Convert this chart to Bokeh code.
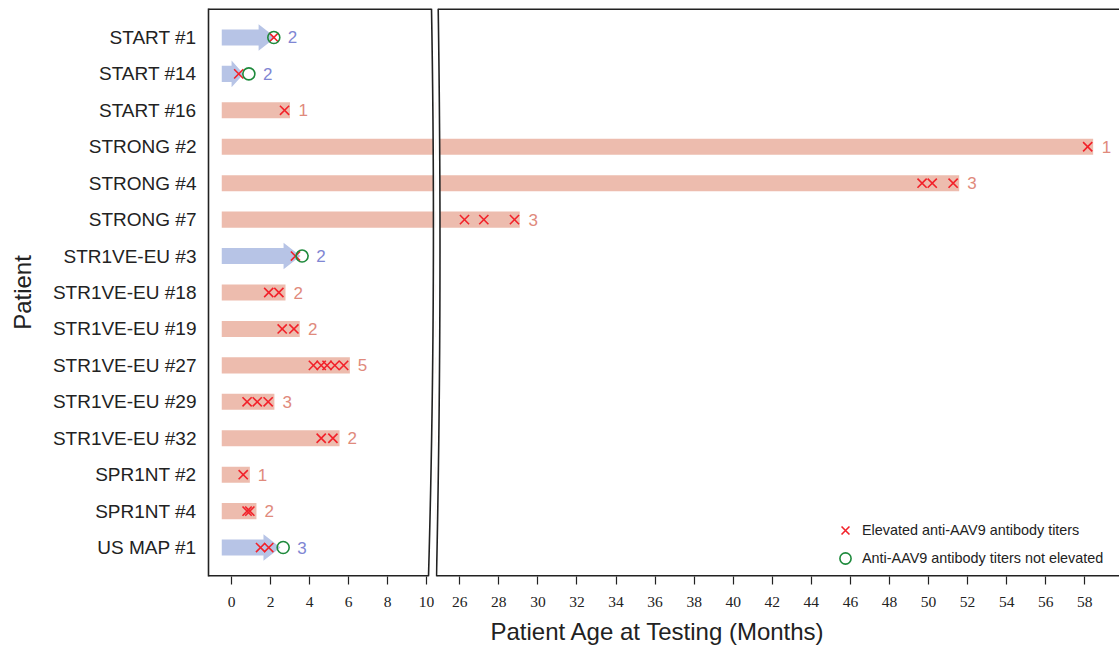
import numpy as np
from bokeh.plotting import figure
from bokeh.layouts import row
from bokeh.models import Range1d, FixedTicker, ColumnDataSource, Title, Legend, LegendItem
from bokeh.core.properties import value
from bokeh.embed import file_html
from bokeh.resources import INLINE

# ---------------- data ----------------
patients = ["START #1", "START #14", "START #16", "STRONG #2", "STRONG #4", "STRONG #7",
            "STR1VE-EU #3", "STR1VE-EU #18", "STR1VE-EU #19", "STR1VE-EU #27",
            "STR1VE-EU #29", "STR1VE-EU #32", "SPR1NT #2", "SPR1NT #4", "US MAP #1"]
follow_up_end = [2.26, 0.62, 3.0, 58.43, 51.57, 29.07, 3.54, 2.77, 3.5, 6.07,
                 2.2, 5.54, 0.94, 1.28, 2.51]
ongoing = [True, True, False, False, False, False, True, False, False, False,
           False, False, False, False, True]
elevated = [[2.17], [0.37], [2.72], [58.15], [49.67, 50.19, 51.26], [26.24, 27.23, 28.8],
            [3.28], [1.91, 2.43], [2.6, 3.2], [4.2, 4.6, 4.9, 5.3, 5.75],
            [0.8, 1.32, 1.88], [4.6, 5.2], [0.6], [0.8, 0.94], [1.49, 1.91]]
not_elevated = [[2.17], [0.89], [], [], [], [], [3.62], [], [], [], [], [], [], [], [2.65]]
test_counts = [2, 2, 1, 1, 3, 3, 2, 2, 2, 5, 3, 2, 1, 2, 3]
left_ticks = [0, 2, 4, 6, 8, 10]
right_ticks = [26, 28, 30, 32, 34, 36, 38, 40, 42, 44, 46, 48, 50, 52, 54, 56, 58]
legend_labels = ["Elevated anti-AAV9 antibody titers", "Anti-AAV9 antibody titers not elevated"]
x_title = "Patient Age at Testing (Months)"
y_title = "Patient"

# ---------------- style ----------------
BAR_START = -0.5
PINK = "#EDBCAE"
BLUE = "#B7C4E6"
RED = "#F2222A"
GREEN = "#1E8A3C"
PINK_TXT = "#E08A7C"
BLUE_TXT = "#7F86D3"
INK = "#222222"
SANS = "Liberation Sans"
SERIF = "Liberation Serif"

# pixel helpers (decoration / layout only)
def lx(px):
    return (px - 231.0) / 19.5

def rx(px):
    return 26.0 + (px - 459.3) / 19.53

def yd(py):
    return (py - 37.0) / 36.5

rows = list(range(len(patients)))

bar_src = ColumnDataSource(dict(
    y=[i for i in rows if not ongoing[i]],
    right=[follow_up_end[i] for i in rows if not ongoing[i]],
))

axs, ays = [], []
for i in rows:
    if ongoing[i]:
        tip = follow_up_end[i]
        h = min(0.87, 0.55 * (tip - BAR_START))
        base = tip - h
        axs.append([BAR_START, base, base, tip, base, base, BAR_START])
        ays.append([i - 0.22, i - 0.22, i - 0.365, i, i + 0.365, i + 0.22, i + 0.22])
arrow_src = ColumnDataSource(dict(xs=axs, ys=ays))

ex, ey, nx, ny = [], [], [], []
for i in rows:
    for v in elevated[i]:
        ex.append(v); ey.append(i)
    for v in not_elevated[i]:
        nx.append(v); ny.append(i)
x_src = ColumnDataSource(dict(x=ex, y=ey))
o_src = ColumnDataSource(dict(x=nx, y=ny))


def label_source(lo, hi):
    lab = dict(x=[], y=[], text=[], color=[])
    for i in rows:
        x = max([follow_up_end[i]] + [v + 0.31 for v in elevated[i] + not_elevated[i]])
        if lo <= x <= hi:
            lab["x"].append(x)
            lab["y"].append(i)
            lab["text"].append(str(test_counts[i]))
            lab["color"].append(BLUE_TXT if ongoing[i] else PINK_TXT)
    return ColumnDataSource(lab)


y_range = Range1d(yd(577), yd(8))

FIG_H = 650
BORDER_TOP = 8
BORDER_BOTTOM = FIG_H - 577


def qbez(p0, c, p2, n=80):
    t = np.linspace(0, 1, n)
    x = (1 - t) ** 2 * p0[0] + 2 * (1 - t) * t * c[0] + t ** 2 * p2[0]
    y = (1 - t) ** 2 * p0[1] + 2 * (1 - t) * t * c[1] + t ** 2 * p2[1]
    return x, y


def make_fig(xr, ticks, is_left, width):
    p = figure(width=width, height=FIG_H, x_range=xr, y_range=y_range,
               output_backend="svg", toolbar_location=None,
               min_border_left=208 if is_left else 0, min_border_right=0,
               min_border_top=BORDER_TOP, min_border_bottom=BORDER_BOTTOM,
               y_axis_location="left" if is_left else None)
    p.outline_line_color = None
    p.xgrid.grid_line_color = None
    p.ygrid.grid_line_color = None
    p.background_fill_color = "white"
    p.border_fill_color = "white"

    lab_src = label_source(xr.start, xr.end)

    p.hbar(y="y", left=BAR_START, right="right", height=0.44, source=bar_src,
           fill_color=PINK, line_color=None)
    p.patches(xs="xs", ys="ys", source=arrow_src, fill_color=BLUE, line_color=None)
    rx_ = p.scatter(x="x", y="y", source=x_src, marker="x", size=13,
                    line_color=RED, line_width=1.6)
    ro_ = p.scatter(x="x", y="y", source=o_src, marker="circle", size=12,
                    fill_color=None, line_color=GREEN, line_width=1.6)
    p.text(x="x", y="y", text="text", source=lab_src, text_color="color",
           x_offset=8, text_align="left", text_baseline="middle",
           text_font=value(SANS), text_font_size="17px")

    ax = p.xaxis[0]
    ax.ticker = FixedTicker(ticks=ticks)
    ax.axis_line_color = None
    ax.major_tick_in = 0
    ax.major_tick_out = 8
    ax.minor_tick_in = 0
    ax.minor_tick_out = 0
    ax.major_tick_line_color = INK
    ax.major_tick_line_width = 1.2
    ax.major_label_text_font = SERIF
    ax.major_label_text_font_size = "15.5px"
    ax.major_label_text_color = INK
    ax.major_label_standoff = 12
    return p, rx_, ro_


# ---------------- left panel ----------------
p1, _, _ = make_fig(Range1d(lx(208), lx(435)), left_ticks, True, 435)
ya = p1.yaxis[0]
ya.ticker = FixedTicker(ticks=rows)
ya.major_label_overrides = {i: name for i, name in zip(rows, patients)}
ya.major_tick_in = 0
ya.major_tick_out = 0
ya.minor_tick_in = 0
ya.minor_tick_out = 0
ya.axis_line_color = INK
ya.axis_line_width = 1.6
ya.major_label_text_font = SANS
ya.major_label_text_font_size = "19px"
ya.major_label_text_color = INK
ya.major_label_standoff = 12
ya.axis_label = y_title
ya.axis_label_text_font = SANS
ya.axis_label_text_font_size = "24px"
ya.axis_label_text_font_style = "normal"
ya.axis_label_text_color = INK
ya.axis_label_standoff = 14

cxp, cyp = qbez((431, 8), (436, 292.5), (428, 577))
cx = [lx(v) for v in cxp]
cy = [yd(v) for v in cyp]
xe = p1.x_range.end + 1
p1.patch(cx + [xe, xe], cy + [yd(577), yd(8)], fill_color="white", line_color=None)
p1.line(cx, cy, line_color=INK, line_width=1.6)
x0 = p1.x_range.start - 1
p1.line([x0, lx(431)], [yd(8), yd(8)], line_color=INK, line_width=3)
p1.line([x0, lx(428)], [yd(577), yd(577)], line_color=INK, line_width=3)

# ---------------- right panel ----------------
p2, rX, rO = make_fig(Range1d(rx(435), rx(1119)), right_ticks, False, 684)
cxp, cyp = qbez((437.7, 8), (442, 292.5), (436, 577))
cx = [rx(v) for v in cxp]
cy = [yd(v) for v in cyp]
xs0 = p2.x_range.start - 1
p2.patch(cx + [xs0, xs0], cy + [yd(577), yd(8)], fill_color="white", line_color=None)
p2.line(cx, cy, line_color=INK, line_width=1.6)
xe2 = p2.x_range.end + 1
p2.line([rx(437.7), xe2], [yd(8), yd(8)], line_color=INK, line_width=3)
p2.line([rx(436), xe2], [yd(577), yd(577)], line_color=INK, line_width=3)

legend = Legend(items=[LegendItem(label=legend_labels[0], renderers=[rX]),
                       LegendItem(label=legend_labels[1], renderers=[rO])],
                location=(394, 4))
legend.label_text_font = SANS
legend.label_text_font_size = "14.4px"
legend.label_text_color = INK
legend.glyph_width = 32
legend.glyph_height = 28
legend.label_height = 28
legend.spacing = 0
legend.padding = 0
legend.margin = 0
legend.label_standoff = 1
legend.border_line_color = None
legend.background_fill_alpha = 0
p2.add_layout(legend)

title = Title(text=x_title, align="left", offset=55, standoff=12,
              text_font=SANS, text_font_size="24px", text_font_style="normal",
              text_color=INK)
p2.add_layout(title, "below")

layout = row(p1, p2)
open("out.html", "w").write(file_html(layout, INLINE))
